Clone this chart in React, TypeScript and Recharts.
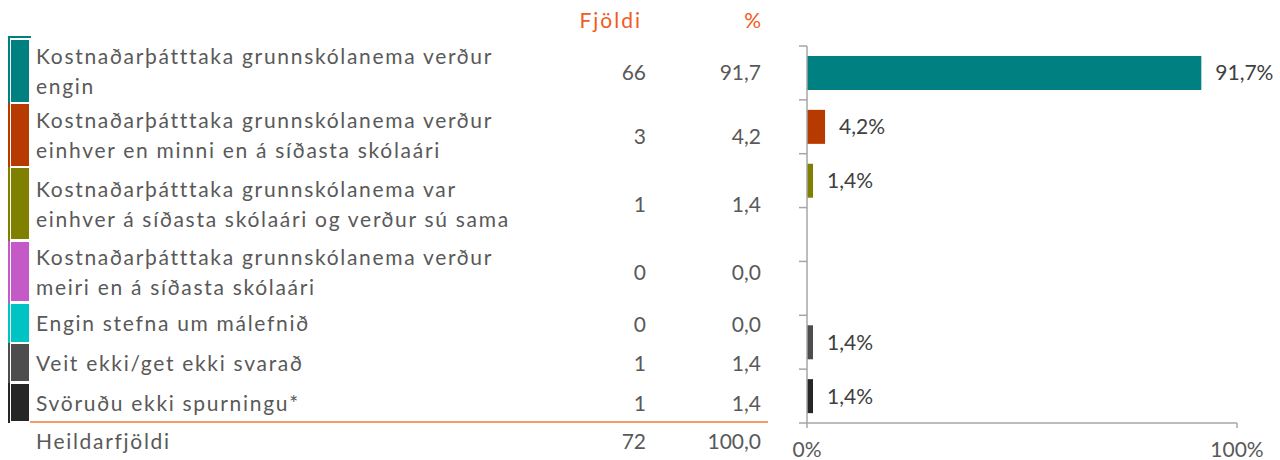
import { BarChart, Bar, XAxis, YAxis, Cell, LabelList } from 'recharts';

const categories = [
  'Kostnaðarþátttaka grunnskólanema verður\nengin',
  'Kostnaðarþátttaka grunnskólanema verður\neinhver en minni en á síðasta skólaári',
  'Kostnaðarþátttaka grunnskólanema var\neinhver á síðasta skólaári og verður sú sama',
  'Kostnaðarþátttaka grunnskólanema verður\nmeiri en á síðasta skólaári',
  'Engin stefna um málefnið',
  'Veit ekki/get ekki svarað',
  'Svöruðu ekki spurningu*',
];
const counts = [66, 3, 1, 0, 0, 1, 1];
const percents = [91.7, 4.2, 1.4, 0, 0, 1.4, 1.4];
const headers = ['Fjöldi', '%'];
const totalLabel = 'Heildarfjöldi';
const totalCount = 72;
const totalPercent = 100;
const xTicks = [0, 100];

const COLORS = ['#008080', '#B73A00', '#808000', '#C45AC8', '#00C4C4', '#4D4D4D', '#262626'];
// row boxes in the left table (top, height)
const ROWS = [
  [40, 62],
  [104, 62],
  [168, 71],
  [242, 59],
  [304, 38],
  [344, 37],
  [384, 37],
];

const TEXT = '#595959';
const AXIS = '#A6A6A6';
const FONT = 'Lato, "Open Sans", sans-serif';
const FS = 21;

const CHART_H = 460;
const M_TOP = 46;
const X_AXIS_H = 37;
const PLOT_H = CHART_H - M_TOP - X_AXIS_H;

const fmt = (v: number) => v.toFixed(1).replace('.', ',');

const chartData = categories.map((name, i) => ({ name, value: percents[i] }));

// Excel style: tick marks between the categories, not at their centres
const YTick = (p: any) => {
  const step = PLOT_H / categories.length;
  const yTop = p.y - step / 2;
  const yBot = p.y + step / 2;
  return (
    <g>
      <line x1={p.x - 8} x2={p.x} y1={yTop} y2={yTop} stroke={AXIS} strokeWidth={1.5} />
      {p.index === categories.length - 1 && (
        <line x1={p.x - 8} x2={p.x} y1={yBot} y2={yBot} stroke={AXIS} strokeWidth={1.5} />
      )}
    </g>
  );
};

export default function App() {
  const num = { fontSize: FS, letterSpacing: 0 };
  return (
    <div style={{ position: 'absolute', left: 0, top: 0, width: 1280, height: 460, background: '#fff', fontFamily: FONT, color: TEXT, overflow: 'hidden' }}>
      {/* header */}
      <div style={{ position: 'absolute', top: 7, left: 540, width: 102, textAlign: 'right', color: '#F15A22', fontSize: FS, letterSpacing: 2 }}>{headers[0]}</div>
      <div style={{ position: 'absolute', top: 7, left: 680, width: 81, textAlign: 'right', color: '#F15A22', fontSize: FS }}>{headers[1]}</div>

      {/* top border bit */}
      <div style={{ position: 'absolute', top: 36, left: 8, width: 23, height: 1.5, background: COLORS[0] }} />

      {categories.map((c, i) => {
        const [top, h] = ROWS[i];
        const nextTop = i < ROWS.length - 1 ? ROWS[i + 1][0] : top + h + 2;
        const lineTop = i === 0 ? 37 : top - 1;
        return (
          <div key={i}>
            <div style={{ position: 'absolute', left: 8, top: lineTop, width: 1.5, height: nextTop - lineTop, background: COLORS[i] }} />
            <div style={{ position: 'absolute', left: 11, top, width: 18, height: h, background: COLORS[i] }} />
            <div style={{ position: 'absolute', left: 36, top, height: h, display: 'flex', alignItems: 'center', whiteSpace: 'pre-line', fontSize: FS, lineHeight: '30px', letterSpacing: 1.7 }}>{c}</div>
            <div style={{ position: 'absolute', left: 560, width: 86, top, height: h, display: 'flex', alignItems: 'center', justifyContent: 'flex-end', ...num }}>{counts[i]}</div>
            <div style={{ position: 'absolute', left: 680, width: 81, top, height: h, display: 'flex', alignItems: 'center', justifyContent: 'flex-end', ...num }}>{fmt(percents[i])}</div>
          </div>
        );
      })}

      <div style={{ position: 'absolute', left: 30, top: 421, width: 738, height: 2, background: '#FA9A6A' }} />
      <div style={{ position: 'absolute', left: 36, top: 428, fontSize: FS, letterSpacing: 1.7 }}>{totalLabel}</div>
      <div style={{ position: 'absolute', left: 560, width: 86, top: 428, textAlign: 'right', ...num }}>{totalCount}</div>
      <div style={{ position: 'absolute', left: 680, width: 81, top: 428, textAlign: 'right', ...num }}>{fmt(totalPercent)}</div>

      <div style={{ position: 'absolute', left: 780, top: 0 }}>
        <BarChart width={500} height={CHART_H} data={chartData} layout="vertical" margin={{ top: M_TOP, right: 43, bottom: 0, left: 0 }}>
          <XAxis
            type="number"
            domain={[0, 100]}
            ticks={xTicks}
            tickFormatter={(v: number) => `${v}%`}
            height={X_AXIS_H}
            tickSize={5}
            tickMargin={14}
            axisLine={{ stroke: AXIS, strokeWidth: 1.5 }}
            tickLine={{ stroke: AXIS, strokeWidth: 1.5 }}
            tick={{ fill: TEXT, fontSize: FS, fontFamily: FONT }}
          />
          <YAxis
            type="category"
            dataKey="name"
            width={27}
            tickSize={0}
            tickMargin={0}
            tickLine={false}
            tick={YTick}
            axisLine={{ stroke: AXIS, strokeWidth: 1.5 }}
          />
          <Bar dataKey="value" barSize={34} isAnimationActive={false}>
            {chartData.map((_, i) => (
              <Cell key={i} fill={COLORS[i]} />
            ))}
            <LabelList
              dataKey="value"
              position="right"
              offset={14}
              formatter={(v: number) => (v > 0 ? `${fmt(v)}%` : '')}
              style={{ fill: '#404040', fontSize: FS, fontFamily: FONT }}
            />
          </Bar>
        </BarChart>
      </div>
    </div>
  );
}
